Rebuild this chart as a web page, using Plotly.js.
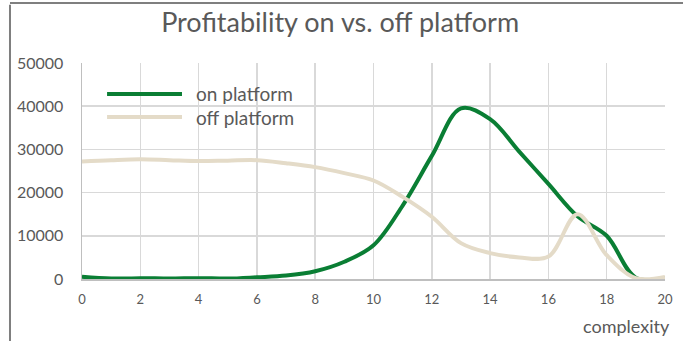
<!DOCTYPE html>
<html>
<head>
<meta charset="utf-8">
<script src="https://cdn.plot.ly/plotly-3.0.1.min.js"></script>
<style>html,body{margin:0;padding:0;background:#fff;}#chart{width:683px;height:341px;}</style>
</head>
<body>
<div id="chart"></div>
<script>
const complexity = [0,1,2,3,4,5,6,7,8,9,10,11,12,13,14,15,16,17,18,19,20];
const onPlatform = [500,100,200,100,200,100,400,800,1800,4000,7800,17000,28500,39500,37000,29500,22000,14500,10000,300,200];
const offPlatform = [27200,27500,27700,27500,27300,27400,27500,26800,25900,24500,22800,19000,14400,8300,6000,5000,5200,15000,5500,200,500];
const seriesNames = ['on platform', 'off platform'];
const seriesColors = ['#0a7e34', '#e4dbc8'];
const xTicks = [0,2,4,6,8,10,12,14,16,18,20];
const yTicks = [0,10000,20000,30000,40000,50000];

const font = "Lato, 'Open Sans', sans-serif";
const traces = [
  {x: complexity, y: onPlatform, name: seriesNames[0], mode: 'lines',
   line: {color: seriesColors[0], width: 4, shape: 'spline', smoothing: 1}},
  {x: complexity, y: offPlatform, name: seriesNames[1], mode: 'lines',
   line: {color: seriesColors[1], width: 4, shape: 'spline', smoothing: 1}}
];

// custom legend (long line samples like the original)
const legRows = [0.8565, 0.75];
const legShapes = seriesNames.map((n, i) => ({type: 'line', xref: 'paper', yref: 'paper',
  x0: 0.043, x1: 0.1715, y0: legRows[i], y1: legRows[i], line: {color: seriesColors[i], width: 4}}));
const legAnn = seriesNames.map((n, i) => ({text: n, xref: 'paper', yref: 'paper', x: 0.192, y: legRows[i],
  xanchor: 'left', yanchor: 'middle', showarrow: false, font: {size: 19, color: '#595959'}}));

const layout = {
  width: 683, height: 341,
  margin: {l: 82, r: 18, t: 63, b: 62},
  paper_bgcolor: '#fff', plot_bgcolor: '#fff',
  font: {family: font, color: '#595959'},
  title: {text: 'Profitability on vs. off platform', font: {size: 27, color: '#595959', family: font},
          x: 0.498, xanchor: 'center', y: 0.935, yanchor: 'middle', xref: 'container'},
  xaxis: {range: [0, 20], tickvals: xTicks, ticktext: xTicks.map(String),
          showgrid: true, gridcolor: '#d9d9d9', gridwidth: 1.5,
          showline: true, linecolor: '#bfbfbf', linewidth: 1.5, zeroline: false,
          ticks: '', ticklabelstandoff: 8, tickfont: {size: 13, color: '#595959'}},
  yaxis: {range: [0, 50000], tickvals: yTicks, ticktext: yTicks.map(String),
          showgrid: true, gridcolor: '#d9d9d9', gridwidth: 1.5,
          showline: true, linecolor: '#bfbfbf', linewidth: 1.5, zeroline: false,
          ticks: '', ticklabelstandoff: 14, tickfont: {size: 16, color: '#595959'}},
  showlegend: false,
  annotations: legAnn.concat([
    {text: 'complexity', xref: 'paper', yref: 'paper', x: 1.012, y: -0.218, xanchor: 'right', yanchor: 'middle',
     showarrow: false, font: {size: 18, color: '#595959'}}
  ]),
  shapes: legShapes.concat([
    {type: 'line', xref: 'paper', yref: 'paper', x0: -0.1235, x1: -0.1235, y0: 1.27, y1: -0.3,
     line: {color: '#7f7f7f', width: 2}},
    {type: 'line', xref: 'paper', yref: 'paper', x0: -0.1235, x1: 1.05, y0: 1.278, y1: 1.278,
     line: {color: '#7f7f7f', width: 2}}
  ])
};
Plotly.newPlot('chart', traces, layout, {displayModeBar: false, staticPlot: true});
</script>
</body>
</html>
